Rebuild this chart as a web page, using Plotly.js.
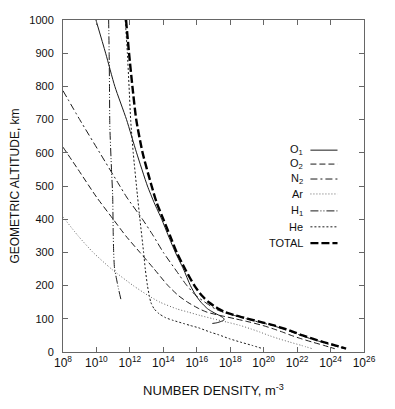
<!DOCTYPE html>
<html><head><meta charset="utf-8">
<script src="https://cdn.plot.ly/plotly-3.0.1.min.js"></script>
<style>html,body{margin:0;padding:0;background:#fff}#chart{width:395px;height:409px}</style>
</head><body><div id="chart"></div>
<script>
// altitude (km) and log10 number density (m^-3)
const totalAlt = [1000, 900, 800, 700, 600, 500, 450, 400, 350, 300, 250, 200, 170, 150, 130, 120, 110, 100, 90, 80, 70, 60, 50, 40, 30, 20, 10];
const totalLog = [11.77, 11.95, 12.15, 12.38, 12.76, 13.3, 13.6, 14.0, 14.4, 14.8, 15.3, 15.86, 16.3, 16.72, 17.3, 17.71, 18.32, 19.08, 19.85, 20.62, 21.24, 21.81, 22.33, 22.92, 23.58, 24.27, 24.93];

const o1Alt = [1000, 900, 800, 700, 600, 500, 450, 400, 350, 300, 250, 200, 170, 150, 130, 120, 110, 104, 100, 96, 92, 88, 86];
const o1Log = [9.97, 10.55, 11.1, 11.8, 12.4, 13.05, 13.45, 13.9, 14.3, 14.72, 15.2, 15.62, 15.95, 16.25, 16.65, 16.97, 17.35, 17.55, 17.63, 17.62, 17.45, 17.2, 16.93];

const o2Alt = [617, 550, 467, 400, 350, 300, 250, 200, 170, 150, 130, 120, 110, 100, 90, 80, 70, 60, 50, 40, 30, 20, 10];
const o2Log = [8.0, 8.9, 10.0, 11.0, 11.75, 12.6, 13.45, 14.28, 14.9, 15.45, 16.15, 16.61, 17.4, 18.3, 19.17, 19.94, 20.56, 21.13, 21.65, 22.24, 22.9, 23.59, 24.25];

const n2Alt = [787, 700, 600, 500, 467, 400, 350, 300, 250, 200, 170, 150, 130, 120, 110, 100, 90, 80, 70, 60, 50, 40, 30, 20, 10];
const n2Log = [8.0, 9.0, 10.2, 11.4, 11.8, 12.75, 13.4, 14.0, 14.7, 15.41, 15.95, 16.49, 17.1, 17.57, 18.25, 18.96, 19.73, 20.51, 21.13, 21.7, 22.22, 22.81, 23.47, 24.16, 24.82];

const arAlt = [407, 350, 300, 250, 200, 170, 150, 130, 120, 110, 100, 90, 80, 70, 60, 50, 40, 30, 20, 10];
const arLog = [8.0, 8.9, 9.8, 10.9, 12.2, 13.1, 13.8, 14.8, 15.5, 16.2, 16.98, 17.8, 18.59, 19.21, 19.78, 20.3, 20.89, 21.55, 22.24, 22.9];

const h1Alt = [1000, 900, 800, 682, 550, 472, 367, 300, 253, 220, 190, 157];
const h1Log = [10.73, 10.76, 10.78, 10.8, 10.9, 10.97, 11.0, 11.03, 11.08, 11.2, 11.32, 11.47];

const heAlt = [1000, 900, 800, 697, 600, 472, 400, 300, 250, 200, 172, 150, 130, 115, 103, 95, 86, 80, 73, 60, 52, 40, 30, 20, 10];
const heLog = [11.72, 11.85, 11.95, 12.05, 12.2, 12.45, 12.6, 12.82, 12.92, 13.05, 13.15, 13.25, 13.45, 13.75, 14.15, 14.6, 15.2, 15.6, 16.1, 16.8, 17.3, 17.95, 18.6, 19.3, 19.95];

const tickExp = [8, 10, 12, 14, 16, 18, 20, 22, 24, 26];
const legendNames = ['O<sub>1</sub>', 'O<sub>2</sub>', 'N<sub>2</sub>', 'Ar', 'H<sub>1</sub>', 'He', 'TOTAL'];

const pow10 = a => a.map(v => Math.pow(10, v));
const ink = '#1a1a1a';
const styles = [
  {dash: 'solid', width: 1, color: ink},
  {dash: '6px,3px', width: 1, color: ink},
  {dash: '7px,3px,2px,3px', width: 1, color: ink},
  {dash: '1px,2px', width: 1, color: '#666'},
  {dash: '8px,2px,1px,2px,1px,2px', width: 1, color: ink},
  {dash: '2px,2px', width: 1, color: ink},
  {dash: '8px,3px', width: 2.4, color: '#000'}
];
const series = [
  [o1Log, o1Alt], [o2Log, o2Alt], [n2Log, n2Alt], [arLog, arAlt], [h1Log, h1Alt], [heLog, heAlt], [totalLog, totalAlt]
];
const data = series.map((s, i) => ({
  x: pow10(s[0]), y: s[1], type: 'scatter', mode: 'lines',
  line: {dash: styles[i].dash, width: styles[i].width, color: styles[i].color, shape: 'spline', smoothing: 0.6},
  name: legendNames[i], showlegend: false, hoverinfo: 'skip'
}));

const legY = [0.608, 0.566, 0.521, 0.476, 0.425, 0.377, 0.328];
const annotations = legendNames.map((t, i) => ({
  text: t, xref: 'paper', yref: 'paper', x: 0.805, y: legY[i], xanchor: 'right', yanchor: 'middle',
  showarrow: false, font: {family: 'Liberation Sans, Arial, sans-serif', size: 11, color: '#111'}
}));
const shapes = legendNames.map((t, i) => ({
  type: 'line', xref: 'paper', yref: 'paper', x0: 0.822, x1: 0.912, y0: legY[i], y1: legY[i],
  line: {dash: styles[i].dash, width: styles[i].width, color: styles[i].color}
}));

const font = {family: 'Liberation Sans, Arial, sans-serif', size: 11, color: '#111'};
const layout = {
  width: 395, height: 409,
  margin: {l: 63, r: 31, t: 20, b: 57},
  paper_bgcolor: '#fff', plot_bgcolor: '#fff',
  font: font,
  showlegend: false,
  xaxis: {
    type: 'log', range: [8, 26],
    tickvals: pow10(tickExp), ticktext: tickExp.map(e => '10<sup>' + e + '</sup>'),
    ticks: 'inside', ticklen: 5, tickcolor: '#666', showline: true, linecolor: '#666', linewidth: 1,
    mirror: 'ticks', showgrid: false, zeroline: false,
    tickfont: {family: font.family, size: 12, color: '#111'},
    title: {text: 'NUMBER DENSITY, m<sup>-3</sup>', font: {family: font.family, size: 13, color: '#111'}, standoff: 16}
  },
  yaxis: {
    range: [0, 1000], dtick: 100,
    ticks: 'inside', ticklen: 5, tickcolor: '#666', showline: true, linecolor: '#666', linewidth: 1,
    mirror: 'ticks', showgrid: false, zeroline: false,
    tickfont: {family: font.family, size: 11, color: '#111'},
    ticklabelstandoff: 6,
    title: {text: 'GEOMETRIC ALTITUDE, km', font: {family: font.family, size: 12, color: '#111'}, standoff: 7}
  },
  annotations: annotations,
  shapes: shapes
};
Plotly.newPlot('chart', data, layout, {displayModeBar: false, staticPlot: true});
</script>
</body></html>
